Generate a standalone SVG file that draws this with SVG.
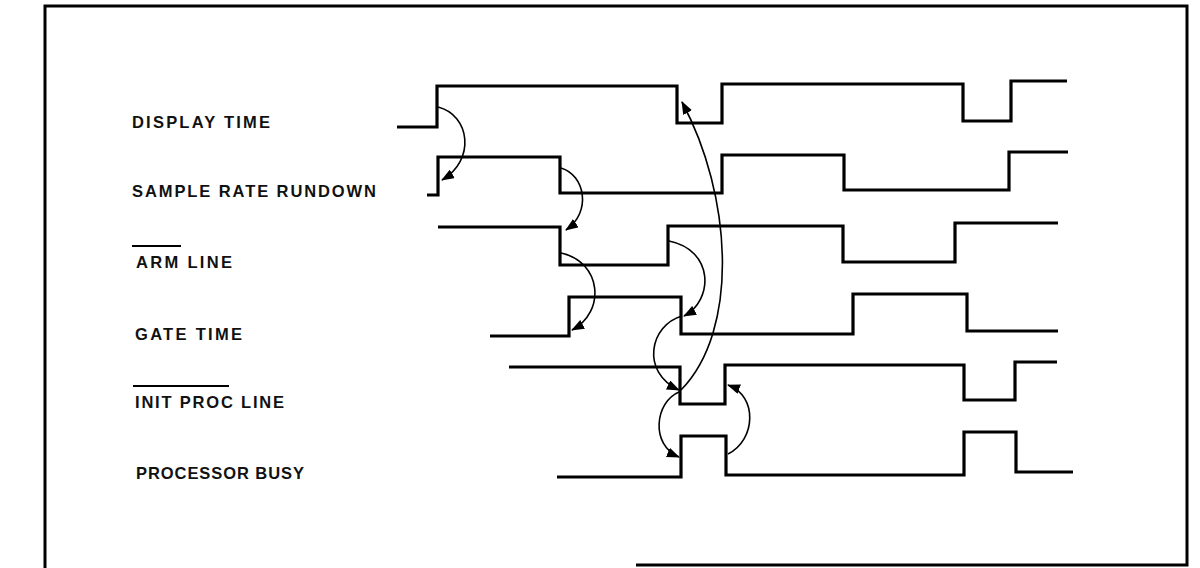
<svg xmlns="http://www.w3.org/2000/svg" width="1200" height="568" viewBox="0 0 1200 568">
<style>
.frame{fill:none;stroke:#000;stroke-width:3}
.wave{fill:none;stroke:#000;stroke-width:3.2;stroke-linejoin:miter;stroke-linecap:butt}
.arc{fill:none;stroke:#000;stroke-width:1.6;marker-end:url(#ah)}
.lbl{font-family:"Liberation Sans",Arial,sans-serif;font-weight:bold;font-size:16.5px;fill:#111}
.ovl{stroke:#000;stroke-width:2}
</style>
<defs>
<marker id="ah" markerUnits="userSpaceOnUse" markerWidth="14" markerHeight="10" refX="12" refY="5" orient="auto">
<path d="M0,0 L13,5 L0,10 z" fill="#000"/>
</marker>
</defs>
<rect width="1200" height="568" fill="#fff"/>
<path class="frame" d="M45,568 V6 H1187 V565 H636"/>

<g id="display-time">
<text class="lbl" x="132" y="128" textLength="138" lengthAdjust="spacing">DISPLAY TIME</text>
<path class="wave" d="M397,127 H437 V86 H677 V123 H722 V84 H963 V121 H1011 V81 H1067"/>
</g>
<g id="sample-rate-rundown">
<text class="lbl" x="132" y="197" textLength="244" lengthAdjust="spacing">SAMPLE RATE RUNDOWN</text>
<path class="wave" d="M427,195 H438 V157 H560 V193 H722 V155 H844 V190 H1009 V152 H1068"/>
</g>
<g id="arm-line">
<line class="ovl" x1="132" y1="246" x2="181" y2="246"/>
<text class="lbl" x="136" y="268" textLength="96" lengthAdjust="spacing">ARM LINE</text>
<path class="wave" d="M438,227 H560 V265 H668 V226 H843 V262 H955 V223 H1058"/>
</g>
<g id="gate-time">
<text class="lbl" x="135" y="340" textLength="107" lengthAdjust="spacing">GATE TIME</text>
<path class="wave" d="M490,336 H569 V297 H681 V334 H853 V294 H967 V331 H1058"/>
</g>
<g id="init-proc-line">
<line class="ovl" x1="133" y1="386" x2="229" y2="386"/>
<text class="lbl" x="135" y="408" textLength="149" lengthAdjust="spacing">INIT PROC LINE</text>
<path class="wave" d="M509,367 H680 V404 H725 V365 H964 V400 H1015 V362 H1057"/>
</g>
<g id="processor-busy">
<text class="lbl" x="136" y="479" textLength="168" lengthAdjust="spacing">PROCESSOR BUSY</text>
<path class="wave" d="M557,477 H681 V436 H726 V475 H964 V432 H1016 V472 H1073"/>
</g>

<g id="connectors">
<path class="arc" d="M438,107 C470,115 476,160 442,180"/>
<path class="arc" d="M561,168 C585,175 592,212 566,230"/>
<path class="arc" d="M561,253 C602,262 606,312 572,330"/>
<path class="arc" d="M669,241 C714,250 714,300 684,316"/>
<path class="arc" d="M682,316 C650,325 640,372 679,390"/>
<path class="arc" d="M681,390 C740,330 732,195 682,102"/>
<path class="arc" d="M679,392 C655,402 650,445 679,457"/>
<path class="arc" d="M728,454 C756,440 758,396 728,385"/>
</g>
</svg>
